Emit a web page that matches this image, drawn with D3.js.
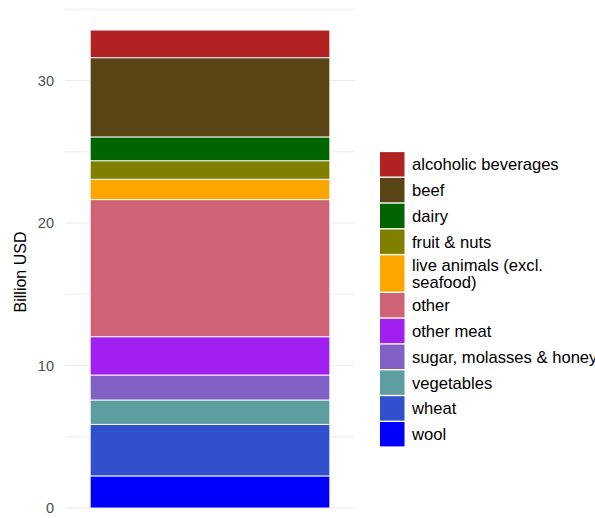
<!DOCTYPE html>
<html>
<head>
<meta charset="utf-8">
<script src="https://cdn.jsdelivr.net/npm/d3@7"></script>
<style>
  html, body { margin: 0; padding: 0; background: #fff; }
  svg { display: block; font-family: "Liberation Sans", Arial, Helvetica, sans-serif; }
</style>
</head>
<body>
<svg id="chart" width="595" height="518"></svg>
<script>
// ---- data ----
const categories = ["alcoholic beverages", "beef", "dairy", "fruit & nuts", "live animals (excl. seafood)",
  "other", "other meat", "sugar, molasses & honey", "vegetables", "wheat", "wool"];
const values = [1.94, 5.56, 1.67, 1.30, 1.43, 9.62, 2.69, 1.75, 1.71, 3.62, 2.25];
const colors = ["#b22222", "#584414", "#006400", "#808000", "#ffa500", "#cf6376",
  "#a020f0", "#8061c6", "#5f9ea0", "#3050cd", "#0000ff"];
const yTicks = [0, 10, 20, 30];
const yGrid = [0, 5, 10, 15, 20, 25, 30, 35];
const yLabel = "Billion USD";
const legendLines = [["alcoholic beverages"], ["beef"], ["dairy"], ["fruit & nuts"],
  ["live animals (excl.", "seafood)"], ["other"], ["other meat"], ["sugar, molasses & honey"],
  ["vegetables"], ["wheat"], ["wool"]];

(function () {
// ---- layout ----
const svg = d3.select("#chart");
const panel = { left: 65, right: 355 };
const y = d3.scaleLinear().domain([0, 10]).range([508, 365.5]);
const x = d3.scaleBand().domain(["total"]).range([panel.left, panel.right]).paddingInner(0.095).paddingOuter(0.095);

// grid
svg.append("g").selectAll("line").data(yGrid).join("line")
  .attr("x1", panel.left).attr("x2", panel.right)
  .attr("y1", d => y(d)).attr("y2", d => y(d))
  .attr("stroke", "#ebebeb").attr("stroke-width", d => d % 10 === 0 ? 1.1 : 0.9);

// y axis labels
svg.append("g").selectAll("text").data(yTicks).join("text")
  .attr("x", 54).attr("y", d => y(d)).attr("dy", "0.36em")
  .attr("text-anchor", "end").attr("font-size", 14.5).attr("fill", "#4d4d4d")
  .text(d => d);

svg.append("text")
  .attr("transform", "translate(26,272) rotate(-90)")
  .attr("text-anchor", "middle").attr("font-size", 16).attr("fill", "#000")
  .text(yLabel);

// stacked bar (bottom: last category)
const row = {};
categories.forEach((c, i) => row[c] = values[i]);
const stackKeys = categories.slice().reverse();
const series = d3.stack().keys(stackKeys)([row]);
const colorOf = d3.scaleOrdinal().domain(categories).range(colors);

svg.append("g").selectAll("rect").data(series).join("rect")
  .attr("x", x("total")).attr("width", x.bandwidth())
  .attr("y", d => y(d[0][1])).attr("height", d => y(d[0][0]) - y(d[0][1]))
  .attr("fill", d => colorOf(d.key))
  .attr("stroke", "#fff").attr("stroke-width", 0.9);

// legend
const lg = svg.append("g");
let ly = 151.5;
const keyW = 24.5, pitch1 = 25.8, extraLine = 11.9;
categories.forEach((c, i) => {
  const lines = legendLines[i];
  const h = pitch1 + (lines.length - 1) * extraLine;
  lg.append("rect").attr("x", 380).attr("y", ly + 0.6).attr("width", keyW).attr("height", h - 1.4)
    .attr("fill", colors[i]);
  const cy = ly + h / 2;
  const lh = 17.5;
  const t = lg.append("text").attr("font-size", 16.6).attr("fill", "#000");
  lines.forEach((ln, j) => {
    t.append("tspan").attr("x", 412)
      .attr("y", cy + (j - (lines.length - 1) / 2) * lh).attr("dy", "0.36em").text(ln);
  });
  ly += h;
});
})();
</script>
</body>
</html>
